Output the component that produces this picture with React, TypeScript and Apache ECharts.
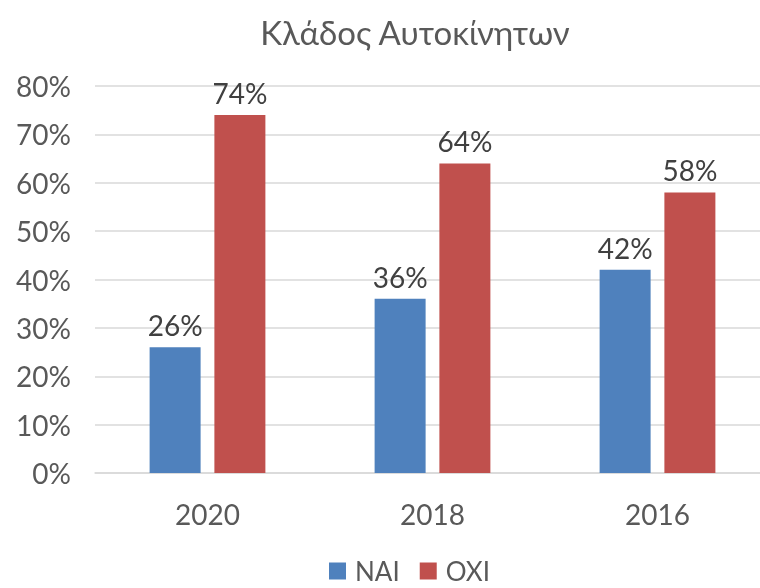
import React, { useEffect, useRef } from "react";
import * as echarts from "echarts";

const categories = ["2020", "2018", "2016"];
const naiValues = [26, 36, 42];
const oxiValues = [74, 64, 58];
const seriesNames = ["NAI", "OXI"];
const titleText = "Κλάδος Αυτοκίνητων";

export default function App() {
  const ref = useRef<HTMLDivElement>(null);
  useEffect(() => {
    if (!ref.current) return;
    const chart = echarts.init(ref.current, undefined, { renderer: "svg" });
    const font = "Lato, 'Open Sans', sans-serif";
    chart.setOption({
      animation: false,
      textStyle: { fontFamily: font },
      title: {
        text: titleText,
        left: 410,
        textAlign: "center",
        top: 10,
        textStyle: { fontFamily: font, fontSize: 33, fontWeight: "normal", color: "#595959" },
      },
      legend: {
        data: seriesNames,
        left: 324,
        top: 553,
        itemWidth: 17,
        itemHeight: 17,
        itemGap: 20,
        icon: "rect",
        textStyle: { fontFamily: font, fontSize: 26, color: "#595959", padding: [0, 0, 0, 4] },
      },
      grid: { left: 95, top: 86, width: 675, height: 387, containLabel: false },
      xAxis: {
        type: "category",
        data: categories,
        axisTick: { show: false },
        axisLine: { lineStyle: { color: "#d9d9d9", width: 1.5 } },
        axisLabel: { fontFamily: font, fontSize: 28, color: "#595959", margin: 27 },
      },
      yAxis: {
        type: "value",
        min: 0,
        max: 80,
        interval: 10,
        axisLabel: { formatter: "{value}%", fontFamily: font, fontSize: 28, color: "#595959", margin: 24 },
        splitLine: { lineStyle: { color: "#d9d9d9", width: 1.5 } },
        axisLine: { show: false },
        axisTick: { show: false },
      },
      series: [
        {
          name: seriesNames[0],
          type: "bar",
          data: naiValues,
          barWidth: 51,
          barGap: "27%",
          itemStyle: { color: "#4F81BD" },
          label: { show: true, position: "top", formatter: "{c}%", fontFamily: font, fontSize: 28, color: "#404040", distance: 8 },
        },
        {
          name: seriesNames[1],
          type: "bar",
          data: oxiValues,
          barWidth: 51,
          itemStyle: { color: "#C0504D" },
          label: { show: true, position: "top", formatter: "{c}%", fontFamily: font, fontSize: 28, color: "#404040", distance: 8 },
        },
      ],
    });
    return () => chart.dispose();
  }, []);
  return (
    <div
      ref={ref}
      style={{ position: "fixed", left: 0, top: 0, width: 790, height: 600 }}
    />
  );
}
